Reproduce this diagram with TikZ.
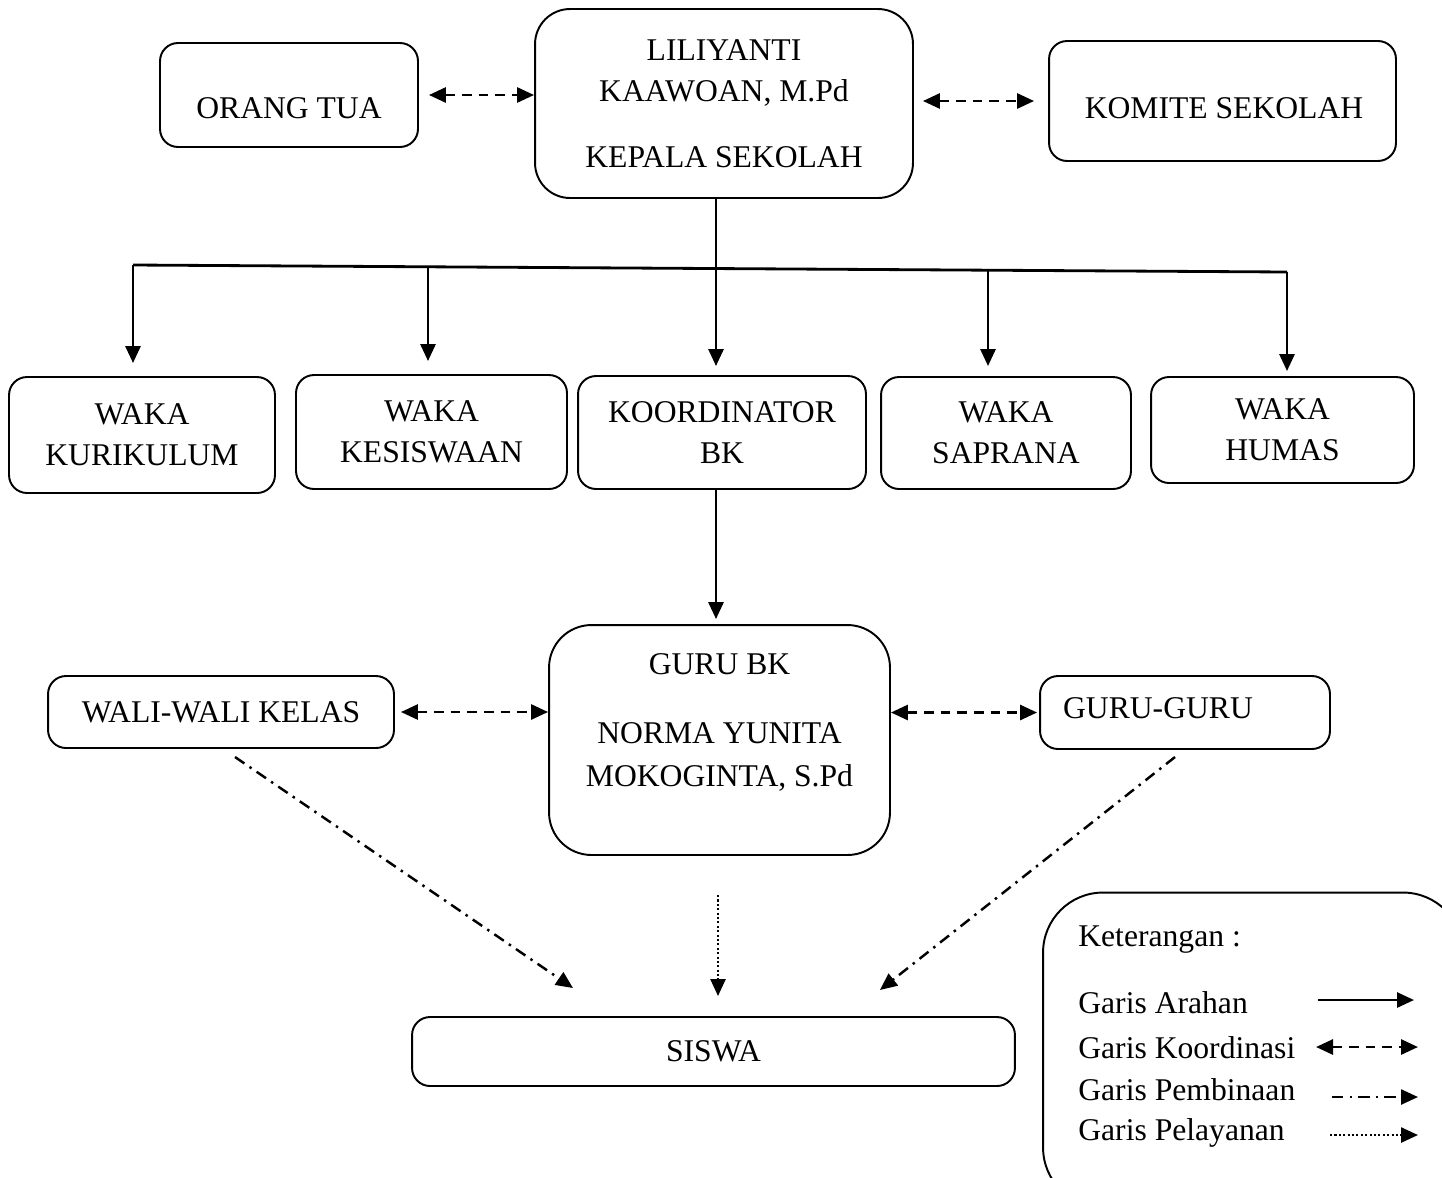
\documentclass[tikz,border=0pt]{standalone}
\usepackage{fontspec}
\setmainfont{Liberation Serif}
\usetikzlibrary{arrows.meta}

\tikzset{
  box/.style={draw, line width=1.1pt, rounded corners=0.36cm, align=center,
    inner sep=0pt, font=\fontsize{18}{23.5}\selectfont},
  teks/.style={align=center, inner sep=0pt, font=\fontsize{18}{24.4}\selectfont},
  arahan/.style={line width=1.6pt, -{Triangle[length=0.34cm, width=0.3cm]}},
  koord/.style={line width=1.6pt, dash pattern=on 5.5pt off 4pt,
    {Triangle[length=0.34cm, width=0.3cm]}-{Triangle[length=0.34cm, width=0.3cm]}},
  bina/.style={line width=1.4pt, dash pattern=on 6.5pt off 3.5pt on 1.4pt off 3.5pt,
    -{Triangle[length=0.34cm, width=0.3cm]}},
  layan/.style={line width=1.4pt, dash pattern=on 1.2pt off 1.3pt,
    -{Triangle[length=0.34cm, width=0.3cm]}}
}

\begin{document}
\begin{tikzpicture}[x=0.02cm, y=-0.02cm]
    \useasboundingbox (0,0) rectangle (1442,1177);

    % Baris atas
    \node[box, rounded corners=0.7cm, minimum width=7.56cm, minimum height=3.78cm] (kepsek) at (724,103.5)
        {LILIYANTI\\KAAWOAN, M.Pd\\[14pt]KEPALA SEKOLAH};
    \node[box, minimum width=5.16cm, minimum height=2.08cm] (orangtua) at (289,95) {};
    \node[teks] (orangtuateks) at (289,108) {ORANG TUA};
    \node[box, minimum width=6.94cm, minimum height=2.4cm] (komite) at (1222.5,101) {};
    \node[teks] (komiteteks) at (1224,108) {KOMITE SEKOLAH};

    \draw[koord, shorten <=0.2cm] (orangtua.east) -- (orangtua.east -| kepsek.west);
    \draw[koord, shorten <=0.18cm, shorten >=0.28cm] (kepsek.east |- komite.west) -- (komite.west);

    % Baris waka
    \node[box, minimum width=5.32cm, minimum height=2.32cm] (kurikulum) at (142,435) {WAKA\\KURIKULUM};
    \node[box, minimum width=5.42cm, minimum height=2.28cm] (kesiswaan) at (431.5,432) {WAKA\\KESISWAAN};
    \node[box, minimum width=5.76cm, minimum height=2.26cm] (koordinator) at (722,432.5) {KOORDINATOR\\BK};
    \node[box, minimum width=5cm, minimum height=2.24cm] (saprana) at (1006,433) {WAKA\\SAPRANA};
    \node[box, minimum width=5.26cm, minimum height=2.12cm] (humas) at (1282.5,430) {WAKA\\HUMAS};

    \coordinate (b1) at (133,265);
    \coordinate (b2) at (428,266);
    \coordinate (b3) at (716,268);
    \coordinate (b4) at (988,270);
    \coordinate (b5) at (1287,272);
    \draw[line width=1.6pt] (b1) -- (b5);
    \draw[line width=1.6pt] (b3 |- kepsek.south) -- (b3);
    \draw[arahan, shorten >=0.26cm] (b1) -- (b1 |- kurikulum.north);
    \draw[arahan, shorten >=0.26cm] (b2) -- (b2 |- kesiswaan.north);
    \draw[arahan, shorten >=0.18cm] (b3) -- (b3 |- koordinator.north);
    \draw[arahan, shorten >=0.2cm] (b4) -- (b4 |- saprana.north);
    \draw[arahan, shorten >=0.1cm] (b5) -- (b5 |- humas.north);

    % Guru BK
    \node[box, rounded corners=0.85cm, minimum width=6.82cm, minimum height=4.6cm] (gurubk) at (719.5,740) {};
    \node[teks] (gurubkteks) at (719.5,722) {GURU BK\\[15pt]NORMA YUNITA\\MOKOGINTA, S.Pd};
    \draw[arahan, shorten >=0.1cm] (b3 |- koordinator.south) -- (b3 |- gurubk.north);

    \node[box, minimum width=6.92cm, minimum height=1.44cm] (wali) at (221,712) {WALI-WALI KELAS};
    \node[box, minimum width=5.8cm, minimum height=1.46cm] (gurugur) at (1185,712.5) {};
    \node[teks] (guruguruteks) at (1158,708) {GURU-GURU};

    \draw[koord, shorten <=0.12cm] (wali.east) -- (wali.east -| gurubk.west);
    \draw[koord, shorten >=0.04cm] (gurubk.east |- gurugur.west) -- (gurugur.west);

    % Siswa
    \node[box, minimum width=12.06cm, minimum height=1.38cm] (siswa) at (713.5,1051.5) {SISWA};

    \coordinate (p1) at (235,757);
    \coordinate (p2) at (573,988);
    \coordinate (p3) at (1175,757);
    \coordinate (p4) at (880,990);
    \coordinate (p5) at (718,895);
    \draw[bina] (p1) -- (p2);
    \draw[bina] (p3) -- (p4);
    \draw[layan, shorten >=0.4cm] (p5) -- (p5 |- siswa.north);

    % Keterangan
    \node[box, rounded corners=1.2cm, minimum width=8.4cm, minimum height=6.3cm] (ket) at (1253,1050) {};
    \node[teks, anchor=west] (ket0) at (1078,940) {Keterangan :};
    \node[teks, anchor=west] (ket1) at (1078,1003) {Garis Arahan};
    \node[teks, anchor=west] (ket2) at (1078,1048) {Garis Koordinasi};
    \node[teks, anchor=west] (ket3) at (1078,1090) {Garis Pembinaan};
    \node[teks, anchor=west] (ket4) at (1078,1133) {Garis Pelayanan};

    \coordinate (k1a) at (1318,1000); \coordinate (k1b) at (1414,1000);
    \coordinate (k2a) at (1316,1047); \coordinate (k2b) at (1418,1047);
    \coordinate (k3a) at (1332,1097); \coordinate (k3b) at (1418,1097);
    \coordinate (k4a) at (1330,1135); \coordinate (k4b) at (1418,1135);
    \draw[arahan] (k1a) -- (k1b);
    \draw[koord] (k2a) -- (k2b);
    \draw[bina] (k3a) -- (k3b);
    \draw[layan] (k4a) -- (k4b);
\end{tikzpicture}
\end{document}
